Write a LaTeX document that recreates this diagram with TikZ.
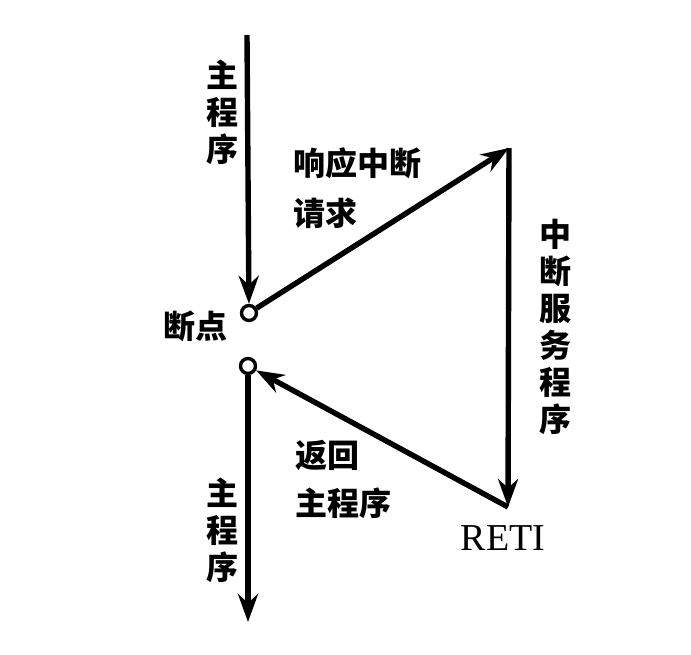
\documentclass[tikz,border=0pt]{standalone}
\usepackage{fontspec}
\newfontfamily\cjk{Noto Sans CJK SC}
\newfontfamily\reti{Liberation Serif}
\usetikzlibrary{arrows.meta}
\begin{document}
\begin{tikzpicture}[x=1pt,y=-1pt,
  flow/.style={line width=5.4pt,-{Stealth[length=28pt,width=20pt,inset=9pt]}},
  lbl/.style={font=\cjk\bfseries\fontsize{32}{37}\selectfont,inner sep=0pt},
  vlbl/.style={lbl,align=center},
  ring/.style={circle,draw,line width=3.4pt,minimum size=15pt,inner sep=0pt}]
\useasboundingbox (0,0) rectangle (691,654);
\coordinate (top) at (247,35);
\node[ring] (c1) at (249,313) {};
\node[ring] (c2) at (248,366) {};
\coordinate (apex) at (509,148);
\coordinate (reti) at (508,507);
\coordinate (bot) at (248,622);
\draw[flow] (top) -- (c1);
\draw[flow] (c1) -- (apex);
\draw[flow] (apex) -- (reti);
\draw[flow] (reti) -- (c2);
\draw[flow] (c2) -- (bot);
\node[vlbl] (m1) at (222,112) {主\\程\\序};
\node[lbl,anchor=west] (x1) at (293,163) {响应中断};
\node[lbl,anchor=west] (x2) at (293,213) {请求};
\node[vlbl] (s) at (555,327) {中\\断\\服\\务\\程\\序};
\node[lbl] (bp) at (195,326) {断点};
\node[lbl,anchor=west] (r1) at (295,456) {返回};
\node[lbl,anchor=west] (r2) at (295,503) {主程序};
\node[font=\reti\fontsize{38}{40}\selectfont,inner sep=0pt] (rt) at (503,538) {RETI};
\node[vlbl] (m2) at (222,530) {主\\程\\序};
\end{tikzpicture}
\end{document}
